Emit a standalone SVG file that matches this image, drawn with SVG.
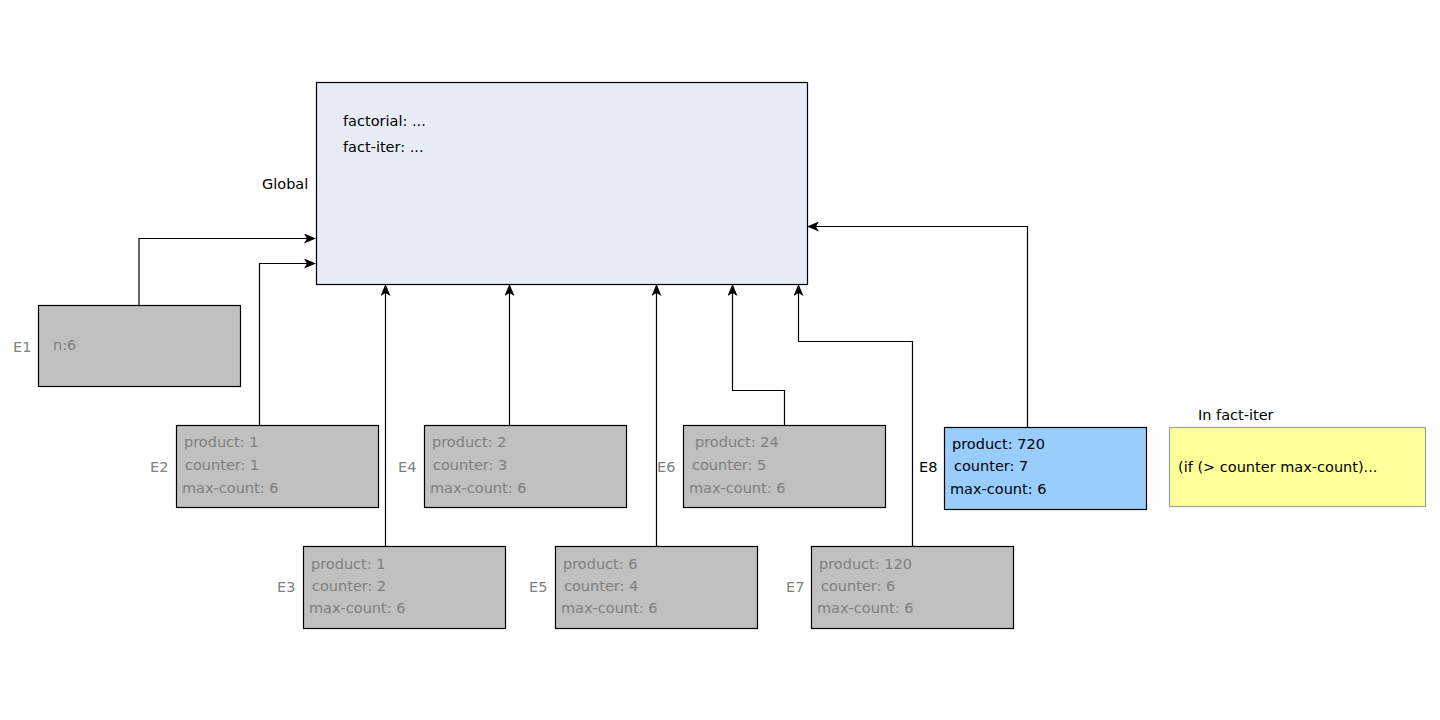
<svg xmlns="http://www.w3.org/2000/svg" width="1440" height="720" viewBox="0 0 1440 720">
<defs>
<marker id="arr" viewBox="0 0 12 10" refX="11" refY="5" markerWidth="12" markerHeight="10" markerUnits="userSpaceOnUse" orient="auto">
<path d="M0,0 L12,5 L0,10 L3,5 Z" fill="#000"/>
</marker>
</defs>
<style>
text{font-family:"DejaVu Sans","Liberation Sans",sans-serif;font-size:14.5px}
.env{fill:#C0C0C0;stroke:#000;stroke-width:1.2}
.g{fill:#7F7F7F}
.k{fill:#000}
.c{fill:none;stroke:#000;stroke-width:1.2;marker-end:url(#arr)}
</style>
<rect width="1440" height="720" fill="#fff"/>
<g id="connectors">
<path class="c" d="M139,305 V238.5 H315"/>
<path class="c" d="M259.5,425 V263.5 H315"/>
<path class="c" d="M385.5,546 V285"/>
<path class="c" d="M509.5,425 V285"/>
<path class="c" d="M656.5,546 V285"/>
<path class="c" d="M784.5,425 V390.5 H732.5 V285"/>
<path class="c" d="M912.5,546 V341.5 H798.5 V285"/>
<path class="c" d="M1027.5,427 V226.5 H808"/>
</g>
<g id="global">
<rect x="316.5" y="82.5" width="491" height="202" fill="#E6EDF7" stroke="#000" stroke-width="1.2"/>
<text class="k" x="343" y="126">factorial: ...</text>
<text class="k" x="343" y="152">fact-iter: ...</text>
<text class="k" x="262" y="189">Global</text>
</g>
<g id="E1">
<rect class="env" x="38.5" y="305.5" width="202" height="81"/>
<text class="g" x="53" y="350">n:6</text>
<text class="g" x="13" y="352">E1</text>
</g>
<g id="E2">
<rect class="env" x="176.5" y="425.5" width="202" height="82"/>
<text class="g" x="184" y="447">product: 1</text>
<text class="g" x="185" y="470">counter: 1</text>
<text class="g" x="182" y="493">max-count: 6</text>
<text class="g" x="150" y="472">E2</text>
</g>
<g id="E4">
<rect class="env" x="424.5" y="425.5" width="202" height="82"/>
<text class="g" x="432" y="447">product: 2</text>
<text class="g" x="433" y="470">counter: 3</text>
<text class="g" x="430" y="493">max-count: 6</text>
<text class="g" x="398" y="472">E4</text>
</g>
<g id="E6">
<rect class="env" x="683.5" y="425.5" width="202" height="82"/>
<text class="g" x="695" y="447">product: 24</text>
<text class="g" x="692" y="470">counter: 5</text>
<text class="g" x="689" y="493">max-count: 6</text>
<text class="g" x="657" y="472">E6</text>
</g>
<g id="E8">
<rect x="944.5" y="427.5" width="202" height="82" fill="#99CCFF" stroke="#000" stroke-width="1.2"/>
<text class="k" x="952" y="449">product: 720</text>
<text class="k" x="954" y="471">counter: 7</text>
<text class="k" x="950" y="494">max-count: 6</text>
<text class="k" x="919" y="472">E8</text>
</g>
<g id="E3">
<rect class="env" x="303.5" y="546.5" width="202" height="82"/>
<text class="g" x="311" y="569">product: 1</text>
<text class="g" x="312" y="591">counter: 2</text>
<text class="g" x="309" y="613">max-count: 6</text>
<text class="g" x="277" y="592">E3</text>
</g>
<g id="E5">
<rect class="env" x="555.5" y="546.5" width="202" height="82"/>
<text class="g" x="563" y="569">product: 6</text>
<text class="g" x="564" y="591">counter: 4</text>
<text class="g" x="561" y="613">max-count: 6</text>
<text class="g" x="529" y="592">E5</text>
</g>
<g id="E7">
<rect class="env" x="811.5" y="546.5" width="202" height="82"/>
<text class="g" x="819" y="569">product: 120</text>
<text class="g" x="821" y="591">counter: 6</text>
<text class="g" x="817" y="613">max-count: 6</text>
<text class="g" x="786" y="592">E7</text>
</g>
<g id="code">
<rect x="1169.5" y="427.5" width="256" height="79" fill="#FFFF99" stroke="#A0A0A0" stroke-width="1.2"/>
<text class="k" x="1178" y="472">(if (&gt; counter max-count)...</text>
<text class="k" x="1198" y="420">In fact-iter</text>
</g>
</svg>
